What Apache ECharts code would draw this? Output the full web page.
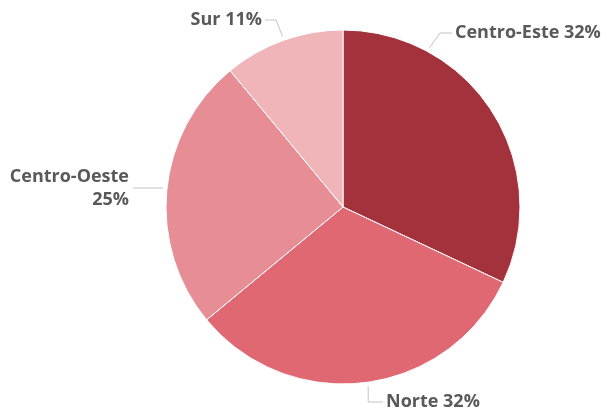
<!DOCTYPE html>
<html>
<head>
<meta charset="utf-8">
<script src="https://cdn.jsdelivr.net/npm/echarts@6/dist/echarts.min.js"></script>
<style>html,body{margin:0;padding:0;background:#fff}#c{width:607px;height:415px}</style>
</head>
<body>
<div id="c"></div>
<script>
const categories = ['Centro-Este', 'Norte', 'Centro-Oeste', 'Sur'];
const values = [32, 32, 25, 11];
const colors = ['#a3323d', '#e06872', '#e78d95', '#efb5b9'];

// label placement (layout only)
const CX = 343, CY = 207, R = 177;
const labelPos = [
  {x: 455, y: 33, align: 'left', ang: 61.5, elbow: [440, 33], end: [452, 33]},
  {x: 386, y: 402, align: 'left', ang: -82, elbow: [370, 402], end: [383, 402]},
  {x: 129, y: 188, align: 'right', ang: 174, elbow: [150, 188], end: [133, 188]},
  {x: 262, y: 20, align: 'right', ang: 109.5, elbow: [276, 20], end: [265, 20]}
];

function arcPt(a) {
  const rad = a * Math.PI / 180;
  return [CX + (R + 4) * Math.cos(rad), CY - (R + 4) * Math.sin(rad)];
}

const chart = echarts.init(document.getElementById('c'), null, {renderer: 'canvas'});
chart.setOption({
  animation: false,
  series: [{
    type: 'pie',
    center: [CX, CY],
    radius: R,
    startAngle: 90,
    clockwise: true,
    data: categories.map((n, i) => ({name: n, value: values[i], itemStyle: {color: colors[i]}})),
    itemStyle: {borderColor: '#fff', borderWidth: 1},
    label: {
      show: true,
      overflow: 'none',
      fontFamily: 'Open Sans',
      fontWeight: 'bold',
      fontSize: 18,
      color: '#595959',
      lineHeight: 23,
      formatter: p => p.name === 'Centro-Oeste' ? p.name + '\n' + p.value + '%' : p.name + ' ' + p.value + '%'
    },
    labelLine: {show: true, length: 10, length2: 11, lineStyle: {color: '#c4c4c4', width: 1}},
    labelLayout: function (params) {
      const p = labelPos[params.dataIndex];
      const s = arcPt(p.ang);
      let elbow = p.elbow;
      if (params.dataIndex === 2) elbow = [s[0], p.end[1]];
      if (params.dataIndex === 1) elbow = [s[0], p.end[1]];
      return {
        x: p.x, y: p.y, align: p.align, verticalAlign: 'middle',
        labelLinePoints: [s, elbow, p.end]
      };
    }
  }]
});
</script>
</body>
</html>
